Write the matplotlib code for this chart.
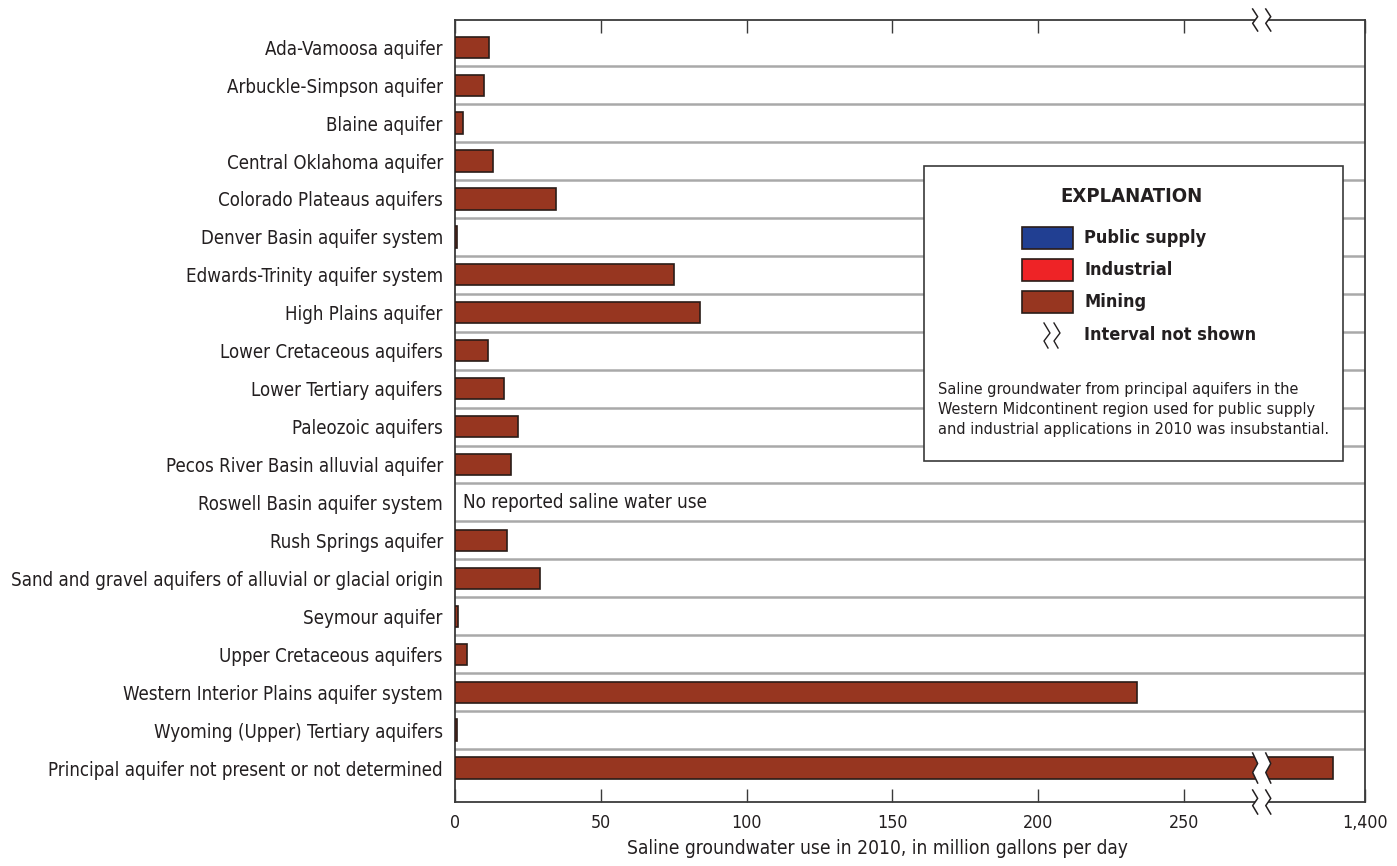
import numpy as np
import matplotlib
matplotlib.use("Agg")
import matplotlib.pyplot as plt
import matplotlib.transforms as mtransforms
from matplotlib.patches import Rectangle, Polygon
from matplotlib.lines import Line2D

plt.rcParams['font.family'] = ['DejaVu Sans']
plt.rcParams['font.stretch'] = 'condensed'

# ---- data -------------------------------------------------------------
aquifers = [
    "Ada-Vamoosa aquifer",
    "Arbuckle-Simpson aquifer",
    "Blaine aquifer",
    "Central Oklahoma aquifer",
    "Colorado Plateaus aquifers",
    "Denver Basin aquifer system",
    "Edwards-Trinity aquifer system",
    "High Plains aquifer",
    "Lower Cretaceous aquifers",
    "Lower Tertiary aquifers",
    "Paleozoic aquifers",
    "Pecos River Basin alluvial aquifer",
    "Roswell Basin aquifer system",
    "Rush Springs aquifer",
    "Sand and gravel aquifers of alluvial or glacial origin",
    "Seymour aquifer",
    "Upper Cretaceous aquifers",
    "Western Interior Plains aquifer system",
    "Wyoming (Upper) Tertiary aquifers",
    "Principal aquifer not present or not determined",
]
# Mining withdrawals, million gallons per day (NaN = no reported use)
mining = [11.6, 9.7, 2.6, 13.0, 34.4, 0.6, 75.0, 84.0, 11.1, 16.7,
          21.4, 19.0, np.nan, 17.6, 29.0, 0.8, 4.1, 233.8, 0.5, 1389.0]
no_use_label = "No reported saline water use"

xticks = [0, 50, 100, 150, 200, 250, 1400]
xtick_labels = ["0", "50", "100", "150", "200", "250", "1,400"]

# ---- colours ----------------------------------------------------------
c_public = "#213f92"
c_industrial = "#ee2326"
c_mining = "#973620"
c_edge = "#2a1c18"
c_sep = "#a9a9a9"
c_spine = "#3a3a3a"
c_text = "#231f20"

# ---- broken x scale ----------------------------------------------------
A, D = 274.5, 279.0          # break starts at A; resumes on screen at D
C = 1400 - (312.2 - D)       # data value where the axis resumes


def fwd(x):
    x = np.asarray(x, dtype=float)
    return np.where(x <= A, x,
                    np.where(x >= C, x - (C - D),
                             A + (x - A) * (D - A) / (C - A)))


def inv(u):
    u = np.asarray(u, dtype=float)
    return np.where(u <= A, u,
                    np.where(u >= D, u + (C - D),
                             A + (u - A) * (C - A) / (D - A)))


W, H = 1397, 866
fig = plt.figure(figsize=(W / 100, H / 100), dpi=100)
ax = fig.add_axes([455.3 / W, (H - 802) / H, (1365 - 455.3) / W, (802 - 20) / H])
ax.set_xscale('function', functions=(fwd, inv))
ax.set_xlim(0, 1400)

n = len(aquifers)
ypos = np.arange(n)
ax.set_ylim(n - 1 + 0.896, -0.717)

# row separators
for i in range(n - 1):
    ax.axhline(i + 0.5, color=c_sep, lw=1.8, zorder=1)

ax.barh(ypos, mining, height=0.56, color=c_mining, edgecolor=c_edge,
        linewidth=1.2, zorder=3)

idx_none = aquifers.index("Roswell Basin aquifer system")
ax.text(2.5, idx_none, no_use_label, va='center', ha='left',
        fontsize=13.5, color=c_text)

ax.set_yticks(ypos)
ax.set_yticklabels(aquifers, fontsize=13.4, color=c_text)
ax.tick_params(axis='y', length=0, pad=9)

ax.set_xticks(xticks)
ax.set_xticklabels(xtick_labels, fontsize=12.8, color=c_text)
ax.tick_params(axis='x', direction='in', length=9.5, width=1.0,
               top=True, bottom=True, color=c_spine, pad=9)
ax.set_xlabel("Saline groundwater use in 2010, in million gallons per day",
              fontsize=13.8, color=c_text)
ax.xaxis.set_label_coords(0.4636, -0.047)

for s in ax.spines.values():
    s.set_color(c_spine)
    s.set_linewidth(1.3)

# ---- break marks -------------------------------------------------------
ident = mtransforms.IdentityTransform()
xl = ax.transData.transform((A, 0))[0]
xr = ax.transData.transform((C, 0))[0]


def zig(xc, yc, h):
    return [(xc - 2.5, yc + h), (xc + 2.5, yc + 0.3 * h),
            (xc - 2.5, yc - 0.3 * h), (xc + 2.5, yc - h)]


def break_mark(yc, h):
    left = zig(xl, yc, h)
    right = zig(xr, yc, h)
    gap = Polygon(left + right[::-1], closed=True, facecolor='white',
                  edgecolor='none', transform=ident, zorder=10)
    fig.add_artist(gap)
    for pts in (left, right):
        xs, ys = zip(*pts)
        fig.add_artist(Line2D(xs, ys, color=c_text, lw=1.1,
                              transform=ident, zorder=11))


y_top = ax.transAxes.transform((0, 1))[1]
y_bot = ax.transAxes.transform((0, 0))[1]
y_last = ax.transData.transform((0, n - 1))[1]
break_mark(y_top, 11)
break_mark(y_bot, 12)
break_mark(y_last, 15)

# ---- explanation box ---------------------------------------------------
def px(x, y):
    return x, H - y


bx0, by0, bx1, by1 = 924, 166, 1343, 461
fig.add_artist(Rectangle(px(bx0, by1), bx1 - bx0, by1 - by0, transform=ident,
                         facecolor='white', edgecolor=c_spine, lw=1.2, zorder=12))
fig.text(*px(1132, 197), "EXPLANATION", transform=ident, ha='center',
         va='center', fontsize=14.5, fontweight='bold', color=c_text, zorder=13)

entries = [("Public supply", c_public, 238), ("Industrial", c_industrial, 270),
           ("Mining", c_mining, 302)]
for label, col, yc in entries:
    fig.add_artist(Rectangle(px(1022, yc + 11), 51, 22, transform=ident,
                             facecolor=col, edgecolor=c_edge, lw=1.2, zorder=13))
    fig.text(*px(1084, yc), label, transform=ident, ha='left', va='center',
             fontsize=13, fontweight='bold', color=c_text, zorder=13)

for xc in (1047, 1057):
    pts = [px(xc - 3, 323), px(xc + 3, 333), px(xc - 3, 341), px(xc + 1, 348)]
    xs, ys = zip(*pts)
    fig.add_artist(Line2D(xs, ys, color=c_text, lw=1.0, transform=ident, zorder=13))
fig.text(*px(1084, 335), "Interval not shown", transform=ident, ha='left',
         va='center', fontsize=13, fontweight='bold', color=c_text, zorder=13)

note = ("Saline groundwater from principal aquifers in the\n"
        "Western Midcontinent region used for public supply\n"
        "and industrial applications in 2010 was insubstantial.")
fig.text(*px(938, 382), note, transform=ident, ha='left', va='top',
         fontsize=11.7, color=c_text, linespacing=1.4, zorder=13)

fig.savefig("out.png", dpi=100)
